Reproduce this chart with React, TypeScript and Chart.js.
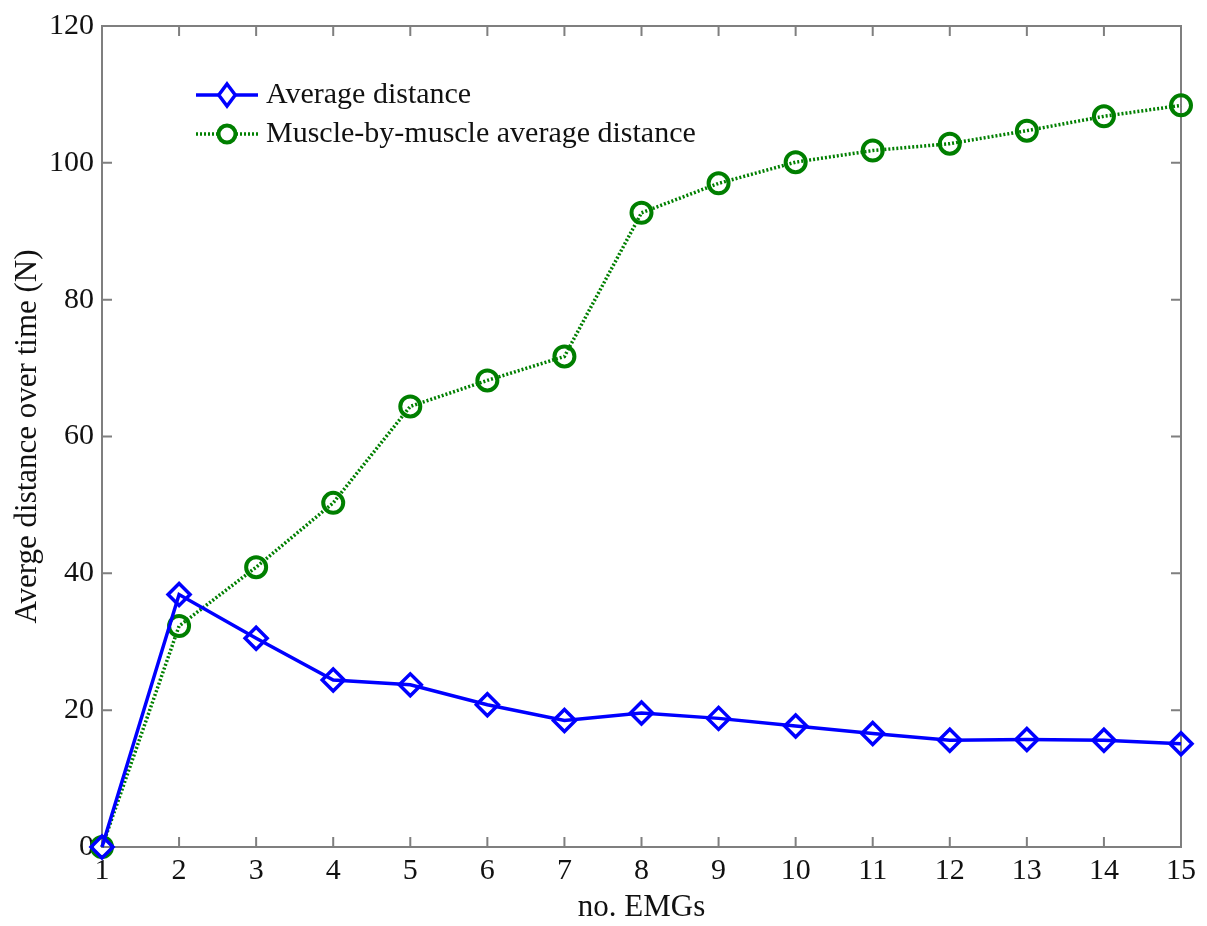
import React, { useEffect, useRef } from "react";
import { Chart, registerables } from "chart.js";

Chart.register(...registerables);

const xValues = [1, 2, 3, 4, 5, 6, 7, 8, 9, 10, 11, 12, 13, 14, 15];
const averageDistance = [0, 36.9, 30.5, 24.4, 23.7, 20.8, 18.5, 19.6, 18.8, 17.7, 16.6, 15.6, 15.7, 15.6, 15.1];
const muscleByMuscle = [0, 32.3, 40.9, 50.3, 64.4, 68.2, 71.7, 92.7, 97.0, 100.1, 101.8, 102.8, 104.7, 106.8, 108.4];
const yTicks = [0, 20, 40, 60, 80, 100, 120];
const seriesLabels = ["Average distance", "Muscle-by-muscle average distance"];
const xTitle = "no. EMGs";
const yTitle = "Averge distance over time (N)";

const FONT = "'Liberation Serif', 'Times New Roman', serif";
const AXIS = "#7f7f7f";
const BLUE = "#0000ff";
const GREEN = "#007f00";

const boxPlugin = {
  id: "matlabBox",
  beforeDatasetsDraw(chart: any) {
    const { ctx, chartArea: a, scales } = chart;
    const xs = scales.x, ys = scales.y;
    ctx.save();
    ctx.strokeStyle = AXIS;
    ctx.lineWidth = 2;
    ctx.strokeRect(a.left, a.top, a.right - a.left, a.bottom - a.top);
    const L = 10;
    ctx.beginPath();
    xValues.forEach((v) => {
      const px = xs.getPixelForValue(v);
      ctx.moveTo(px, a.bottom); ctx.lineTo(px, a.bottom - L);
      ctx.moveTo(px, a.top); ctx.lineTo(px, a.top + L);
    });
    yTicks.forEach((v) => {
      const py = ys.getPixelForValue(v);
      ctx.moveTo(a.left, py); ctx.lineTo(a.left + L, py);
      ctx.moveTo(a.right, py); ctx.lineTo(a.right - L, py);
    });
    ctx.stroke();
    ctx.restore();
  },
  afterDraw(chart: any) {
    const { ctx } = chart;
    const ds = chart.data.datasets;
    const rows = [
      { y: 95, d: ds[0] },
      { y: 134, d: ds[1] },
    ];
    ctx.save();
    rows.forEach(({ y, d }) => {
      ctx.strokeStyle = d.borderColor;
      ctx.lineWidth = d.borderWidth;
      ctx.setLineDash(d.borderDash || []);
      ctx.beginPath();
      ctx.moveTo(196, y);
      ctx.lineTo(258, y);
      ctx.stroke();
      ctx.setLineDash([]);
      ctx.lineWidth = d.pointBorderWidth;
      ctx.beginPath();
      const r = d.pointRadius;
      if (d.pointStyle === "rectRot") {
        ctx.moveTo(227, y - r); ctx.lineTo(227 + r * 0.75, y); ctx.lineTo(227, y + r); ctx.lineTo(227 - r * 0.75, y); ctx.closePath();
      } else {
        ctx.arc(227, y, r * 0.85, 0, Math.PI * 2);
      }
      ctx.fillStyle = "#fff";
      ctx.fill();
      ctx.stroke();
      ctx.fillStyle = "#111";
      ctx.font = `30px ${FONT}`;
      ctx.textBaseline = "middle";
      ctx.fillText(d.label, 266, y);
    });
    ctx.restore();
  },
};

export default function App() {
  const ref = useRef<HTMLCanvasElement>(null);
  useEffect(() => {
    if (!ref.current) return;
    const chart = new Chart(ref.current, {
      type: "line",
      data: {
        datasets: [
          {
            label: seriesLabels[0],
            data: xValues.map((x, i) => ({ x, y: averageDistance[i] })),
            borderColor: BLUE,
            borderWidth: 3.5,
            pointStyle: "rectRot",
            pointRadius: 11,
            pointBorderWidth: 3.5,
            pointBackgroundColor: "rgba(255,255,255,0)",
            pointBorderColor: BLUE,
            tension: 0,
            clip: false,
          },
          {
            label: seriesLabels[1],
            data: xValues.map((x, i) => ({ x, y: muscleByMuscle[i] })),
            borderColor: GREEN,
            borderWidth: 3.5,
            borderDash: [2, 2],
            pointStyle: "circle",
            pointRadius: 10,
            pointBorderWidth: 4,
            pointBackgroundColor: "rgba(255,255,255,0)",
            pointBorderColor: GREEN,
            tension: 0,
            clip: false,
          },
        ],
      },
      options: {
        animation: false,
        responsive: false,
        maintainAspectRatio: false,
        layout: { padding: { top: 22, right: 26, left: 0, bottom: 0 } },
        plugins: { legend: { display: false }, tooltip: { enabled: false } },
        scales: {
          x: {
            type: "linear",
            min: 1,
            max: 15,
            afterBuildTicks: (s: any) => { s.ticks = xValues.map((v) => ({ value: v })); },
            afterFit: (s: any) => { s.height = 79; },
            grid: { display: false, drawTicks: false },
            border: { display: false },
            ticks: { color: "#111", font: { family: FONT, size: 30 }, padding: 6, maxRotation: 0 },
            title: { display: true, text: xTitle, color: "#111", font: { family: FONT, size: 31 }, padding: { top: 0, bottom: 0 } },
          },
          y: {
            min: 0,
            max: 120,
            afterBuildTicks: (s: any) => { s.ticks = yTicks.map((v) => ({ value: v })); },
            afterFit: (s: any) => { s.width = 102; },
            grid: { display: false, drawTicks: false },
            border: { display: false },
            ticks: { color: "#111", font: { family: FONT, size: 30 }, padding: 8 },
            title: { display: true, text: yTitle, color: "#111", font: { family: FONT, size: 31 }, padding: { top: 9, bottom: 0 } },
          },
        },
      },
      plugins: [boxPlugin],
    } as any);
    return () => chart.destroy();
  }, []);
  return (
    <div style={{ position: "fixed", left: 0, top: 0, width: 1207, height: 926, background: "#fff" }}>
      <canvas ref={ref} width={1207} height={926} style={{ width: 1207, height: 926 }} />
    </div>
  );
}
